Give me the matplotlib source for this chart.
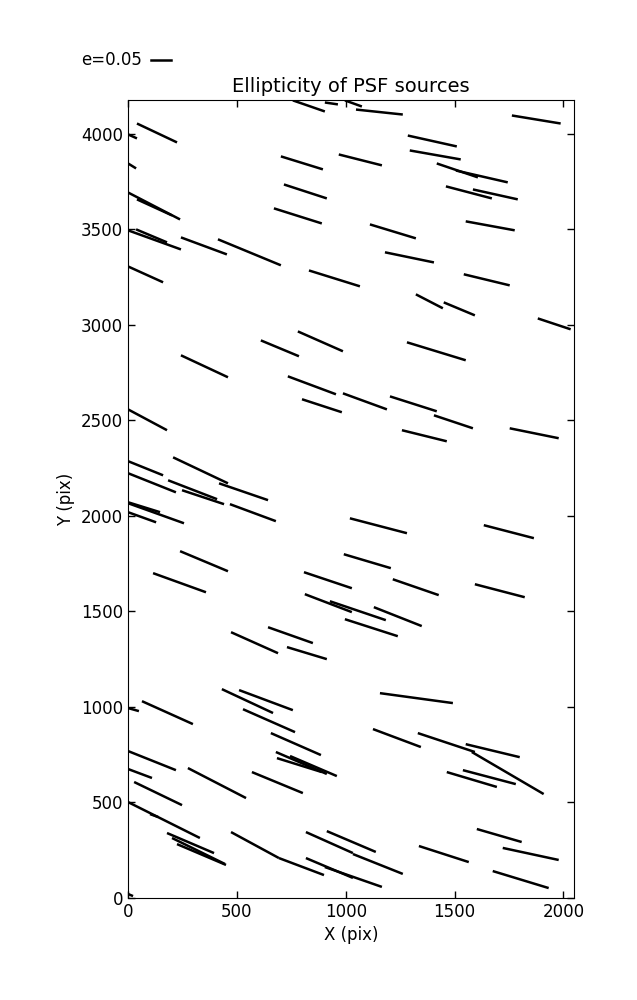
import matplotlib
matplotlib.use("Agg")
import matplotlib.pyplot as plt

# whisker endpoints (pixel units of the detector)
x0 = [757, 904, 996, 1047, 41, 0, 0, 702, 968, 716, 0, 41, 670, 0, 37, 243, 413, 0, 831,
      1763, 1285, 1294, 1418, 1506, 1460, 1584, 1111, 1551, 1180, 1542, 1322, 1450, 1882,
      780, 610, 243, 734, 987, 799, 0, 1281, 1203, 1405, 1258, 1753,
      0, 0, 207, 184, 248, 418, 468, 0, 0, 0, 1019, 239, 115, 991, 808, 812, 927, 996,
      643, 473, 730, 431, 510, 64, 1634, 1216, 1593, 1129, 1157, 0, 528, 656, 0, 275, 0,
      28, 569, 679, 684, 744, 0, 101, 179, 202, 225, 473, 693, 817, 913, 1033, 817, 904,
      1125, 1331, 1551, 1579, 1464, 1538, 1602, 1336, 1721, 1675, 0]
y0 = [4174, 4163, 4174, 4126, 4053, 3996, 3844, 3881, 3891, 3734, 3692, 3656, 3609, 3494,
      3499, 3457, 3447, 3305, 3284,
      4095, 3990, 3912, 3844, 3807, 3724, 3708, 3525, 3541, 3379, 3264, 3159, 3117, 3033,
      2965, 2918, 2840, 2730, 2641, 2610, 2557, 2908, 2625, 2526, 2448, 2458,
      2286, 2223, 2306, 2186, 2134, 2170, 2061, 2071, 2066, 2019, 1987, 1815, 1700, 1799,
      1705, 1590, 1553, 1459, 1417, 1391, 1313, 1093, 1088, 1030, 1951, 1668, 1642, 1522,
      1072, 994, 988, 863, 769, 680, 675, 607, 659, 764, 732, 743, 502, 439, 340, 314, 282,
      345, 209, 345, 350, 230, 209, 162, 884, 863, 805, 764, 659, 669, 361, 272, 262, 141, 21]
x1 = [904, 964, 1074, 1262, 225, 41, 37, 895, 1166, 913, 239, 202, 890, 243, 179, 454, 702,
      161, 1065,
      1987, 1510, 1528, 1607, 1744, 1671, 1790, 1322, 1776, 1405, 1753, 1446, 1593, 2033,
      987, 785, 459, 955, 1189, 982, 179, 1551, 1418, 1584, 1464, 1978,
      161, 220, 459, 409, 441, 643, 679, 147, 257, 129, 1281, 459, 358, 1207, 1028, 1028,
      1184, 1239, 849, 689, 913, 666, 757, 298, 1864, 1427, 1822, 1349, 1492, 50, 767, 886,
      220, 542, 110, 248, 803, 913, 890, 959, 330, 138, 395, 445, 450, 693, 900, 1033, 1138,
      1262, 1033, 1166, 1345, 1593, 1799, 1909, 1694, 1781, 1808, 1565, 1978, 1932, 23]
y1 = [4116, 4153, 4142, 4100, 3954, 3975, 3818, 3813, 3834, 3661, 3551, 3572, 3530, 3394,
      3431, 3368, 3311, 3222, 3201,
      4053, 3933, 3865, 3771, 3745, 3661, 3656, 3452, 3494, 3326, 3206, 3086, 3049, 2976,
      2861, 2835, 2725, 2636, 2557, 2542, 2448, 2814, 2547, 2458, 2390, 2406,
      2212, 2123, 2170, 2087, 2061, 2082, 1972, 2019, 1961, 1966, 1909, 1710, 1600, 1726,
      1621, 1496, 1454, 1370, 1334, 1281, 1250, 968, 983, 910, 1883, 1585, 1574, 1423,
      1020, 978, 868, 748, 669, 523, 628, 486, 549, 649, 659, 638, 314, 424, 235, 178, 173,
      209, 120, 235, 241, 126, 105, 58, 790, 764, 737, 544, 581, 596, 293, 188, 199, 52, 10]

key_label = "e=0.05"

plt.rcParams['font.family'] = ['DejaVu Sans']
fig = plt.figure(figsize=(6.37, 10), dpi=100)
ax = fig.add_axes([0.201, 0.102, 0.7, 0.798])

for a, b, c, d in zip(x0, y0, x1, y1):
    ax.plot([a, c], [b, d], color='black', lw=1.8, solid_capstyle='butt')

ax.set_xlim(0, 2048)
ax.set_ylim(0, 4176)
ax.set_xticks([0, 500, 1000, 1500, 2000])
ax.set_yticks([0, 500, 1000, 1500, 2000, 2500, 3000, 3500, 4000])
ax.tick_params(direction='in', top=True, right=True, length=5, width=1, labelsize=12)
ax.set_xlabel("X (pix)", fontsize=12)
ax.set_ylabel("Y (pix)", fontsize=12)
ax.set_title("Ellipticity of PSF sources", fontsize=14)

# scale key
ax.plot([0.0516, 0.0964], [1.05, 1.05], transform=ax.transAxes, color='black',
        lw=1.8, clip_on=False)
fig.text(0.127, 0.94, key_label, fontsize=12, ha='left', va='center')

fig.savefig("out.png", dpi=100)
